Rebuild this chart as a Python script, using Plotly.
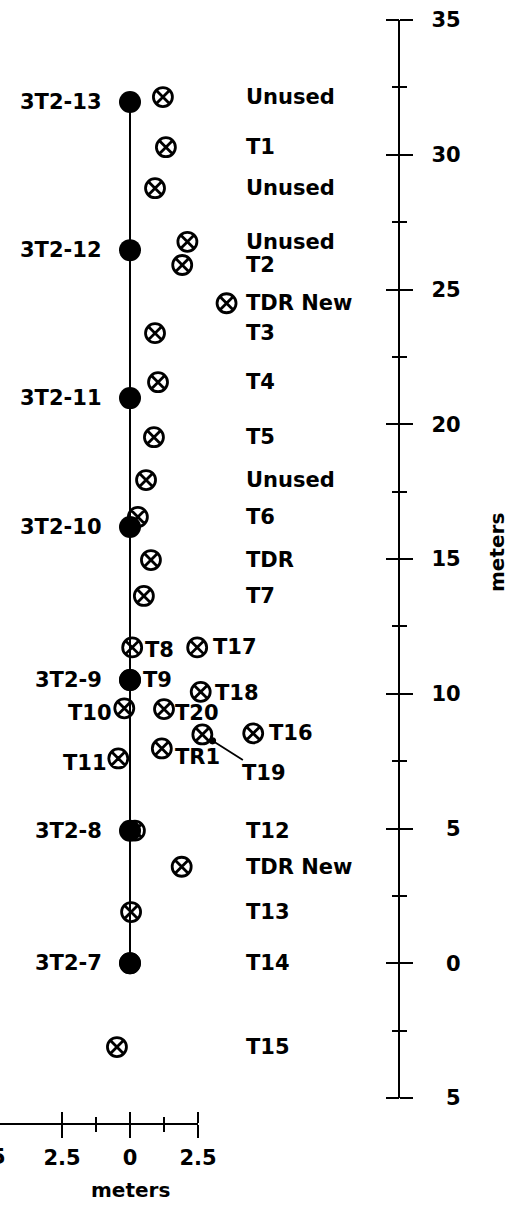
import plotly.graph_objects as go

# ---------------- data ----------------
well_names = ["3T2-13", "3T2-12", "3T2-11", "3T2-10", "3T2-9", "3T2-8", "3T2-7"]
well_depth = [31.96, 26.46, 20.97, 16.19, 10.51, 4.92, 0.0]
well_x = [0, 0, 0, 0, 0, 0, 0]

tube_names = ["Unused", "T1", "Unused", "Unused", "T2", "TDR New", "T3", "T4", "T5",
              "Unused", "T6", "TDR", "T7",
              "T8", "T17", "T9", "T18", "T10", "T20", "T19", "T16", "TR1", "T11",
              "T12", "TDR New", "T13", "T14", "T15"]
tube_x = [1.21, 1.32, 0.92, 2.11, 1.92, 3.55, 0.92, 1.03, 0.88,
          0.59, 0.29, 0.77, 0.51,
          0.08, 2.47, 0.0, 2.60, -0.21, 1.25, 2.66, 4.53, 1.17, -0.43,
          0.18, 1.90, 0.04, 0.0, -0.48]
tube_y = [32.14, 30.28, 28.76, 26.77, 25.91, 24.49, 23.38, 21.56, 19.52,
          17.93, 16.56, 14.96, 13.63,
          11.72, 11.72, 10.51, 10.07, 9.46, 9.43, 8.49, 8.53, 7.97, 7.60,
          4.92, 3.58, 1.90, 0.0, -3.11]

y_tick_vals = [-5, 0, 5, 10, 15, 20, 25, 30, 35]
y_tick_text = ["5", "0", "5", "10", "15", "20", "25", "30", "35"]
y_minor_vals = [-2.5, 2.5, 7.5, 12.5, 17.5, 22.5, 27.5, 32.5]

x_tick_vals = [-5, -2.5, 0, 2.5]
x_tick_text = ["5", "2.5", "0", "2.5"]
x_minor_vals = [-1.25, 1.25]

# ---------------- layout constants ----------------
W, H = 517, 1205
PXM_X = 27.2          # px per metre horizontally
X0_PX = 130.0         # pixel of x = 0
Y_TOP_PX, Y_BOT_PX = 20.0, 1098.0   # pixels of y = 35 and y = -5
Y_RANGE = [-5, 35]
PXM_Y = (Y_BOT_PX - Y_TOP_PX) / (Y_RANGE[1] - Y_RANGE[0])
RIGHT_AXIS_PX = 399.3
BOTTOM_AXIS_PX = 1123.0
BOTTOM_AXIS_END = 2.5
LABEL_COL_X = 4.20
EXT = 4.0             # px margin so inside ticks at the axis ends are kept

x_range = [(0 - X0_PX) / PXM_X, (W - X0_PX) / PXM_X]
y_domain = [1 - Y_BOT_PX / H, 1 - Y_TOP_PX / H]
y3_domain = [y_domain[0] - EXT / H, y_domain[1] + EXT / H]
y3_range = [Y_RANGE[0] - EXT / PXM_Y, Y_RANGE[1] + EXT / PXM_Y]
x2_domain = [0, (X0_PX + BOTTOM_AXIS_END * PXM_X) / W]
x2_range = [x_range[0], BOTTOM_AXIS_END]
x3_domain = [0, (X0_PX + BOTTOM_AXIS_END * PXM_X + EXT) / W]
x3_range = [x_range[0], BOTTOM_AXIS_END + EXT / PXM_X]
p_bot = 1 - BOTTOM_AXIS_PX / H

# label placement: 'col' = right column, 'right'/'left' beside marker, 'leader' = arrow
label_side = ["col"] * 13 + ["right", "right", "right", "right", "left", "right", "leader",
                             "right", "right", "left"] + ["col"] * 5
label_nudge = {13: (11, -3), 14: (14, 0), 15: (11, 0), 16: (12, -1), 17: (-10, -5),
               18: (9, -4), 20: (14, 0), 21: (11, -9), 22: (-9, -5)}

FONT = dict(family="DejaVu Sans", size=21, color="black", weight="bold")

fig = go.Figure()

# well line + well dots
fig.add_trace(go.Scatter(
    x=well_x, y=well_depth, mode="lines+markers",
    line=dict(color="black", width=2),
    marker=dict(size=22, color="black", line=dict(width=0)),
    cliponaxis=False, showlegend=False, hoverinfo="skip"))

# tubes
fig.add_trace(go.Scatter(
    x=tube_x, y=tube_y, mode="markers",
    marker=dict(symbol="circle-x-open", size=19, color="black",
                line=dict(width=2.8, color="black")),
    cliponaxis=False, showlegend=False, hoverinfo="skip"))

# dummy traces so the auxiliary axes get drawn
fig.add_trace(go.Scatter(x=[None], y=[None], xaxis="x", yaxis="y3", showlegend=False, hoverinfo="skip"))
fig.add_trace(go.Scatter(x=[None], y=[None], xaxis="x2", yaxis="y2", showlegend=False, hoverinfo="skip"))
fig.add_trace(go.Scatter(x=[None], y=[None], xaxis="x3", yaxis="y2", showlegend=False, hoverinfo="skip"))

annotations = []
for name, wx, d in zip(well_names, well_x, well_depth):
    annotations.append(dict(x=wx, y=d, xref="x", yref="y", text=name, showarrow=False,
                            xanchor="right", yanchor="middle", xshift=-26))

for i, (name, tx, ty, side) in enumerate(zip(tube_names, tube_x, tube_y, label_side)):
    dx, dy = label_nudge.get(i, (0, 0))
    if side == "col":
        annotations.append(dict(x=LABEL_COL_X, y=ty, xref="x", yref="y", text=name,
                                showarrow=False, xanchor="left", yanchor="middle"))
    elif side == "right":
        annotations.append(dict(x=tx, y=ty, xref="x", yref="y", text=name, showarrow=False,
                                xanchor="left", yanchor="middle", xshift=dx, yshift=dy))
    elif side == "left":
        annotations.append(dict(x=tx, y=ty, xref="x", yref="y", text=name, showarrow=False,
                                xanchor="right", yanchor="middle", xshift=dx, yshift=dy))
    else:
        annotations.append(dict(x=tx, y=ty, xref="x", yref="y", text=name, showarrow=True,
                                ax=62, ay=39, arrowhead=6, arrowsize=1, arrowwidth=1.8,
                                arrowcolor="black", standoff=12))

# axis titles
annotations.append(dict(x=0, y=1 - 1190 / H, xref="x", yref="paper", text="meters",
                        showarrow=False, xanchor="center", yanchor="middle",
                        font=dict(size=20)))
annotations.append(dict(x=497 / W, y=1 - 553 / H, xref="paper", yref="paper", text="meters",
                        showarrow=False, xanchor="center", yanchor="middle", textangle=-90,
                        font=dict(size=20)))
# partially visible bottom tick label at -5 (outside the drawn range)
annotations.append(dict(x=(X0_PX + x_tick_vals[0] * PXM_X + 4) / W, y=1 - 1157 / H,
                        xref="paper", yref="paper", text=x_tick_text[0], showarrow=False,
                        xanchor="center", yanchor="middle"))

tick_common = dict(tickwidth=2, tickcolor="black", showgrid=False, zeroline=False,
                   automargin=False)

fig.update_layout(
    template="none",
    width=W, height=H, margin=dict(l=0, r=0, t=0, b=0, pad=0, autoexpand=False),
    paper_bgcolor="white", plot_bgcolor="rgba(0,0,0,0)",
    font=FONT, showlegend=False,
    xaxis=dict(domain=[0, 1], range=x_range, visible=False, automargin=False),
    yaxis=dict(domain=y_domain, range=Y_RANGE, anchor="free", position=RIGHT_AXIS_PX / W,
               side="right", showline=True, linewidth=2, linecolor="black",
               ticks="outside", ticklen=13, tickmode="array", tickvals=y_tick_vals,
               ticktext=["\u2007" + t if len(t) == 1 else t for t in y_tick_text],
               ticklabelstandoff=14,
               minor=dict(ticks="outside", ticklen=7, tickwidth=2, tickcolor="black",
                          tickmode="array", tickvals=y_minor_vals, showgrid=False),
               **tick_common),
    yaxis3=dict(domain=y3_domain, range=y3_range, anchor="free", position=RIGHT_AXIS_PX / W,
                side="right", showline=False, ticks="inside", ticklen=13,
                tickmode="array", tickvals=y_tick_vals, showticklabels=False,
                minor=dict(ticks="inside", ticklen=7, tickwidth=2, tickcolor="black",
                           tickmode="array", tickvals=y_minor_vals, showgrid=False),
                **tick_common),
    xaxis2=dict(domain=x2_domain, range=x2_range, anchor="y2", side="bottom",
                showline=True, linewidth=2, linecolor="black",
                ticks="outside", ticklen=13, tickmode="array", tickvals=x_tick_vals,
                ticktext=x_tick_text, ticklabelstandoff=2,
                minor=dict(ticks="outside", ticklen=7, tickwidth=2, tickcolor="black",
                           tickmode="array", tickvals=x_minor_vals, showgrid=False),
                **tick_common),
    xaxis3=dict(domain=x3_domain, range=x3_range, anchor="y2", side="bottom",
                showline=False, ticks="inside", ticklen=11, tickmode="array",
                tickvals=x_tick_vals, showticklabels=False,
                minor=dict(ticks="inside", ticklen=6, tickwidth=2, tickcolor="black",
                           tickmode="array", tickvals=x_minor_vals, showgrid=False),
                **tick_common),
    yaxis2=dict(domain=[p_bot, p_bot + 0.002], range=[0, 1], visible=False, automargin=False),
    annotations=annotations,
)

fig.write_html("out.html")
